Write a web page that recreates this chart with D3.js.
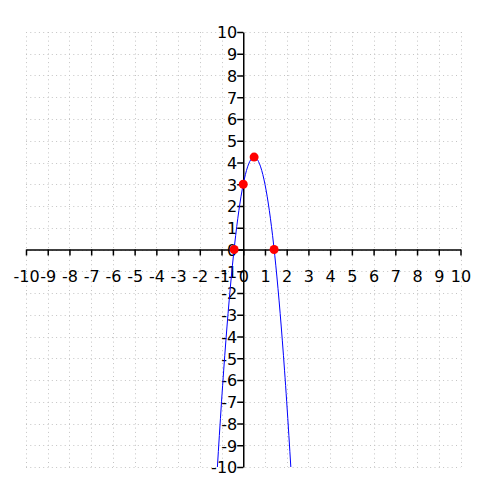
<!DOCTYPE html>
<html><head><meta charset="utf-8">
<script src="https://cdn.jsdelivr.net/npm/d3@7"></script>
<style>body{margin:0;background:#fff}svg{display:block}</style>
</head><body>
<svg id="c" width="500" height="500"></svg>
<script>
const xTicks = [-10,-9,-8,-7,-6,-5,-4,-3,-2,-1,0,1,2,3,4,5,6,7,8,9,10];
const yTicks = [-10,-9,-8,-7,-6,-5,-4,-3,-2,-1,0,1,2,3,4,5,6,7,8,9,10];
const curveX = [-1.19,-1.1,-1.0,-0.9,-0.8,-0.7,-0.6,-0.5,-0.4,-0.3,-0.2,-0.1,0,0.1,0.2,0.3,0.4,0.5,0.6,0.7,0.8,0.9,1.0,1.1,1.2,1.3,1.4,1.5,1.6,1.7,1.8,1.9,2.0,2.1,2.19];
const curveY = [-10,-8.55,-7,-5.55,-4.2,-2.95,-1.8,-0.75,0.2,1.05,1.8,2.45,3,3.45,3.8,4.05,4.2,4.25,4.2,4.05,3.8,3.45,3,2.45,1.8,1.05,0.2,-0.75,-1.8,-2.95,-4.2,-5.55,-7,-8.55,-10];
const pointX = [-0.42, 0, 0.5, 1.42];
const pointY = [0, 3, 4.25, 0];

const svg = d3.select("#c");
const x = d3.scaleLinear().domain([-10,10]).range([26,460.5]);
const y = d3.scaleLinear().domain([-10,10]).range([467,32]);
const fmt = d => String(d);

// grid
const grid = svg.append("g").attr("stroke","#c4c4c4").attr("stroke-width",1).attr("stroke-dasharray","1,3.3");
grid.selectAll(".gx").data(xTicks).join("line")
  .attr("x1",d=>Math.round(x(d))+0.5).attr("x2",d=>Math.round(x(d))+0.5)
  .attr("y1",y(10)).attr("y2",y(-10));
grid.selectAll(".gy").data(yTicks).join("line")
  .attr("y1",d=>Math.round(y(d))+0.5).attr("y2",d=>Math.round(y(d))+0.5)
  .attr("x1",x(-10)).attr("x2",x(10));

// x axis
const xAxis = d3.axisBottom(x).tickValues(xTicks).tickSize(6).tickSizeOuter(0).tickFormat(fmt);
const gx = svg.append("g").attr("transform",`translate(0,${y(0)})`).call(xAxis);
gx.select(".domain").attr("stroke","#000").attr("stroke-width",1.5);
gx.selectAll(".tick line").attr("stroke","#000").attr("stroke-width",1.5);
gx.selectAll(".tick text").attr("font-family","DejaVu Sans").attr("font-size",16).attr("fill","#000").attr("dy",null).attr("y",32);

// y axis
const yAxis = d3.axisLeft(y).tickValues(yTicks).tickSize(6).tickSizeOuter(0).tickFormat(fmt);
const gy = svg.append("g").attr("transform",`translate(${x(0)},0)`).call(yAxis);
gy.select(".domain").attr("stroke","#000").attr("stroke-width",1.5);
gy.selectAll(".tick line").attr("stroke","#000").attr("stroke-width",1.5);
gy.selectAll(".tick text").attr("font-family","DejaVu Sans").attr("font-size",16).attr("fill","#000").attr("x",-6).attr("dy","0.36em");

// curve
const pts = curveX.map((v,i)=>[v,curveY[i]]);
svg.append("path").datum(pts)
  .attr("fill","none").attr("stroke","#0000ff").attr("stroke-width",1)
  .attr("d", d3.line().x(d=>x(d[0])).y(d=>y(d[1])).curve(d3.curveNatural));

// points
svg.append("g").selectAll("circle").data(pointX).join("circle")
  .attr("cx",d=>x(d)).attr("cy",(d,i)=>y(pointY[i])).attr("r",4.5).attr("fill","#ff0000");
</script>
</body></html>
